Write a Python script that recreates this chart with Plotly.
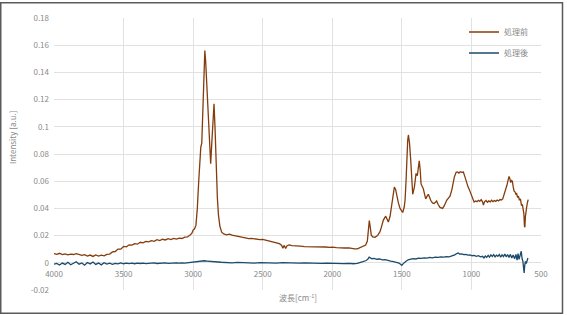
import plotly.graph_objects as go

# ---------------- data ----------------
wn_before = [
    4000, 3980, 3960, 3940, 3920, 3900, 3880, 3860, 3840, 3820, 3800, 3780, 3760, 3740, 3720, 3700,
    3680, 3660, 3640, 3620, 3600, 3580, 3560, 3540, 3520, 3500, 3480, 3460, 3440, 3420, 3400, 3380,
    3360, 3340, 3320, 3300, 3280, 3260, 3240, 3220, 3200, 3180, 3160, 3140, 3120, 3100, 3080, 3060,
    3040, 3020, 3010, 3000, 2990, 2980, 2970, 2960, 2950, 2945, 2938, 2930, 2922, 2916, 2910, 2900,
    2890, 2880, 2874, 2866, 2858, 2850, 2843, 2835, 2826, 2818, 2808, 2795, 2780, 2760, 2740, 2720,
    2700, 2680, 2660, 2640, 2620, 2600, 2580, 2560, 2540, 2520, 2500, 2480, 2460, 2440, 2420, 2400,
    2380, 2365, 2355, 2345, 2335, 2325, 2310, 2290, 2270, 2250, 2230, 2200, 2170, 2140, 2110, 2080,
    2050, 2020, 2000, 1970, 1940, 1910, 1880, 1860, 1840, 1820, 1800, 1780, 1760, 1748, 1740, 1734,
    1728, 1720, 1710, 1693, 1675, 1657, 1645, 1633, 1616, 1605, 1597, 1585, 1578, 1565, 1554, 1545,
    1537, 1525, 1513, 1494, 1483, 1477, 1470, 1465, 1458, 1453, 1445, 1436, 1428, 1422, 1410, 1398,
    1389, 1380, 1375, 1368, 1362, 1346, 1329, 1318, 1310, 1300, 1293, 1280, 1269, 1258, 1250, 1240,
    1226, 1207, 1195, 1178, 1165, 1154, 1140, 1123, 1110, 1100, 1090, 1080, 1070, 1058, 1046, 1034,
    1025, 1015, 1005, 998, 990, 981, 970, 960, 950, 940, 930, 920, 914, 905, 895, 885,
    875, 865, 855, 845, 835, 825, 815, 805, 795, 785, 775, 765, 755, 745, 738, 730,
    724, 718, 712, 706, 700, 694, 686, 680, 675, 668, 662, 655, 648, 640, 634, 628,
    623, 619, 616, 612, 608, 603, 598, 592,
]
int_before = [
    0.0068, 0.0062, 0.0070, 0.0060, 0.0066, 0.0058, 0.0064, 0.0061, 0.0067, 0.0059, 0.0055, 0.0060, 0.0050, 0.0057, 0.0047, 0.0058,
    0.0049, 0.0056, 0.0051, 0.0062, 0.0064, 0.0080, 0.0083, 0.0101, 0.0100, 0.0120, 0.0117, 0.0132, 0.0130, 0.0141, 0.0137, 0.0151,
    0.0147, 0.0158, 0.0154, 0.0163, 0.0158, 0.0170, 0.0164, 0.0173, 0.0168, 0.0177, 0.0171, 0.0180, 0.0174, 0.0182, 0.0179, 0.0189,
    0.0190, 0.0207, 0.0216, 0.0240, 0.0250, 0.0275, 0.0400, 0.0600, 0.0800, 0.0850, 0.0880, 0.1150, 0.1480, 0.1560, 0.1480, 0.1250,
    0.0980, 0.0800, 0.0728, 0.0880, 0.1080, 0.1170, 0.1000, 0.0680, 0.0480, 0.0350, 0.0270, 0.0225, 0.0212, 0.0206, 0.0211, 0.0203,
    0.0199, 0.0193, 0.0189, 0.0183, 0.0183, 0.0178, 0.0179, 0.0175, 0.0175, 0.0171, 0.0172, 0.0166, 0.0164, 0.0156, 0.0153, 0.0144,
    0.0141, 0.0130, 0.0108, 0.0128, 0.0105, 0.0126, 0.0131, 0.0127, 0.0127, 0.0123, 0.0123, 0.0119, 0.0119, 0.0117, 0.0117, 0.0115,
    0.0116, 0.0113, 0.0115, 0.0112, 0.0113, 0.0109, 0.0109, 0.0103, 0.0102, 0.0103, 0.0112, 0.0122, 0.0130, 0.0160, 0.0260, 0.0310,
    0.0270, 0.0205, 0.0190, 0.0188, 0.0200, 0.0229, 0.0270, 0.0314, 0.0343, 0.0320, 0.0300, 0.0340, 0.0387, 0.0480, 0.0557, 0.0540,
    0.0496, 0.0440, 0.0400, 0.0370, 0.0410, 0.0460, 0.0600, 0.0800, 0.0900, 0.0940, 0.0880, 0.0750, 0.0600, 0.0504, 0.0557, 0.0657,
    0.0640, 0.0700, 0.0750, 0.0680, 0.0580, 0.0545, 0.0470, 0.0490, 0.0504, 0.0480, 0.0460, 0.0440, 0.0436, 0.0445, 0.0455, 0.0430,
    0.0407, 0.0400, 0.0420, 0.0460, 0.0475, 0.0490, 0.0540, 0.0630, 0.0665, 0.0668, 0.0660, 0.0670, 0.0665, 0.0667, 0.0630, 0.0580,
    0.0560, 0.0538, 0.0510, 0.0480, 0.0460, 0.0447, 0.0455, 0.0450, 0.0460, 0.0452, 0.0465, 0.0448, 0.0425, 0.0450, 0.0458, 0.0445,
    0.0455, 0.0448, 0.0460, 0.0450, 0.0458, 0.0452, 0.0462, 0.0455, 0.0465, 0.0462, 0.0470, 0.0500, 0.0530, 0.0570, 0.0600, 0.0635,
    0.0620, 0.0590, 0.0605, 0.0600, 0.0560, 0.0528, 0.0520, 0.0505, 0.0509, 0.0480, 0.0490, 0.0460, 0.0470, 0.0420, 0.0430, 0.0390,
    0.0360, 0.0270, 0.0262, 0.0340, 0.0390, 0.0410, 0.0440, 0.0465,
]

wn_after = [
    4000, 3980, 3960, 3940, 3920, 3900, 3880, 3860, 3840, 3820, 3800, 3780, 3760, 3740, 3720, 3700,
    3680, 3660, 3640, 3620, 3600, 3580, 3560, 3540, 3520, 3500, 3480, 3460, 3440, 3420, 3400, 3380,
    3360, 3340, 3320, 3300, 3280, 3260, 3240, 3220, 3200, 3180, 3160, 3140, 3120, 3100, 3080, 3060,
    3040, 3020, 3000, 2980, 2960, 2940, 2920, 2900, 2880, 2860, 2840, 2820, 2800, 2760, 2720, 2680,
    2640, 2600, 2560, 2520, 2480, 2440, 2400, 2360, 2320, 2280, 2240, 2200, 2160, 2120, 2080, 2040,
    2000, 1960, 1920, 1880, 1850, 1820, 1800, 1780, 1760, 1745, 1735, 1725, 1715, 1700, 1680, 1660,
    1640, 1620, 1600, 1580, 1560, 1540, 1520, 1510, 1500, 1490, 1480, 1470, 1455, 1440, 1420, 1400,
    1380, 1360, 1340, 1320, 1300, 1280, 1260, 1240, 1220, 1200, 1180, 1160, 1140, 1120, 1105, 1095,
    1085, 1070, 1055, 1040, 1025, 1010, 995, 980, 965, 950, 935, 920, 910, 900, 890, 880,
    870, 860, 850, 840, 830, 820, 810, 800, 790, 780, 770, 760, 750, 740, 730, 720,
    710, 700, 690, 680, 672, 665, 658, 650, 642, 636, 630, 625, 621, 617, 612, 606,
    600, 594,
]
int_after = [
    -0.0010, -0.0004, -0.0016, -0.0002, -0.0012, 0.0004, -0.0014, -0.0003, 0.0008, -0.0010, -0.0001, -0.0018, 0.0002, -0.0008, 0.0006, -0.0012,
    -0.0002, -0.0015, 0.0001, -0.0009, -0.0003, -0.0011, -0.0004, -0.0008, -0.0001, -0.0007, -0.0003, -0.0006, -0.0002, -0.0007, -0.0003, -0.0005,
    -0.0002, -0.0006, -0.0003, -0.0004, -0.0001, -0.0005, -0.0002, -0.0004, -0.0001, -0.0004, -0.0002, -0.0005, -0.0001, -0.0003, 0.0000, -0.0003,
    0.0000, -0.0002, 0.0002, 0.0004, 0.0008, 0.0012, 0.0015, 0.0013, 0.0010, 0.0012, 0.0008, 0.0006, 0.0004, 0.0002, -0.0001, 0.0003,
    0.0000, 0.0002, -0.0002, 0.0001, -0.0001, 0.0002, -0.0002, 0.0001, -0.0001, 0.0000, -0.0002, 0.0000, -0.0003, -0.0001, -0.0004, -0.0002,
    -0.0005, -0.0003, -0.0006, -0.0004, -0.0007, -0.0004, 0.0000, 0.0008, 0.0015, 0.0025, 0.0042, 0.0036, 0.0030, 0.0032, 0.0026, 0.0028,
    0.0022, 0.0024, 0.0016, 0.0012, 0.0008, 0.0004, -0.0002, -0.0010, -0.0018, -0.0006, 0.0006, 0.0012, 0.0022, 0.0027, 0.0030, 0.0028,
    0.0034, 0.0032, 0.0036, 0.0034, 0.0040, 0.0037, 0.0042, 0.0040, 0.0044, 0.0042, 0.0046, 0.0044, 0.0050, 0.0058, 0.0068, 0.0072,
    0.0064, 0.0066, 0.0060, 0.0062, 0.0056, 0.0058, 0.0052, 0.0054, 0.0048, 0.0052, 0.0044, 0.0048, 0.0036, 0.0050, 0.0040, 0.0055,
    0.0042, 0.0058, 0.0046, 0.0060, 0.0044, 0.0056, 0.0048, 0.0062, 0.0042, 0.0058, 0.0046, 0.0064, 0.0044, 0.0060, 0.0040, 0.0062,
    0.0036, 0.0058, 0.0030, 0.0062, 0.0020, 0.0068, 0.0025, 0.0055, 0.0085, 0.0030, 0.0010, -0.0040, -0.0075, -0.0020, 0.0010, -0.0005,
    0.0020, 0.0035,
]

series_names = ["処理前", "処理後"]
x_tick_vals = [4000, 3500, 3000, 2500, 2000, 1500, 1000, 500]
x_tick_text = ["4000", "3500", "3000", "2500", "2000", "1500", "1000", "500"]
y_tick_vals = [-0.02, 0, 0.02, 0.04, 0.06, 0.08, 0.1, 0.12, 0.14, 0.16, 0.18]
y_tick_text = ["-0.02", "0", "0.02", "0.04", "0.06", "0.08", "0.1", "0.12", "0.14", "0.16", "0.18"]
x_title = "波長[cm<sup>-1</sup>]"
y_title = "Intensity [a.u.]"

# ---------------- figure ----------------
W, H = 567, 315
L, R, T, B = 54, 26, 16, 25
pw, ph = W - L - R, H - T - B
FONT = "Noto Sans CJK JP, Noto Sans, sans-serif"
GRAY = "#8a8a8a"
GRID = "#e1e1e1"

def px_to_paper_x(p):
    return (p - L) / pw

def px_to_paper_y(p):
    return (H - B - p) / ph

fig = go.Figure()
fig.add_trace(go.Scatter(x=wn_before, y=int_before, mode="lines", name=series_names[0],
                         legendgroup="a", line=dict(color="#843C0C", width=1.3)))
fig.add_trace(go.Scatter(x=wn_after, y=int_after, mode="lines", name=series_names[1],
                         legendgroup="b", line=dict(color="#1B4A6B", width=1.3)))

ymin, ymax = -0.02, 0.18
fig.update_layout(
    width=W, height=H, autosize=False,
    margin=dict(l=L, r=R, t=T, b=B, pad=0),
    paper_bgcolor="white", plot_bgcolor="white",
    font=dict(family=FONT, size=8, color=GRAY),
    xaxis=dict(range=[4000, 500], tickvals=x_tick_vals, ticktext=x_tick_text,
               showgrid=True, gridcolor=GRID, gridwidth=1, zeroline=False, showline=False,
               ticks="", anchor="free", position=(0 - ymin) / (ymax - ymin),
               ticklabelstandoff=5, tickfont=dict(size=8, color=GRAY)),
    yaxis=dict(range=[ymin, ymax], tickvals=y_tick_vals, ticktext=y_tick_text,
               showgrid=True, gridcolor=GRID, gridwidth=1, zeroline=False, showline=False,
               ticks="", ticklabelstandoff=4, tickfont=dict(size=8, color=GRAY)),
    legend=dict(x=px_to_paper_x(464), y=px_to_paper_y(15.5), xanchor="left", yanchor="top",
                bgcolor="rgba(0,0,0,0)", font=dict(size=8, color=GRAY),
                tracegroupgap=2, itemwidth=30),
    showlegend=True,
)

fig.add_annotation(text=x_title, xref="paper", yref="paper",
                   x=px_to_paper_x(298), y=px_to_paper_y(298), showarrow=False,
                   font=dict(size=8, color=GRAY), xanchor="center", yanchor="middle")
fig.add_annotation(text=y_title, xref="paper", yref="paper",
                   x=px_to_paper_x(12), y=px_to_paper_y(136), showarrow=False, textangle=-90,
                   font=dict(size=8, color=GRAY), xanchor="center", yanchor="middle")

# outer chart-area frame
fig.add_shape(type="rect", xref="paper", yref="paper",
              x0=px_to_paper_x(0.75), x1=px_to_paper_x(562.5),
              y0=px_to_paper_y(313.5), y1=px_to_paper_y(0.75),
              line=dict(color="#5a5a5a", width=1.5), fillcolor="rgba(0,0,0,0)", layer="above")

fig.write_html("out.html")
